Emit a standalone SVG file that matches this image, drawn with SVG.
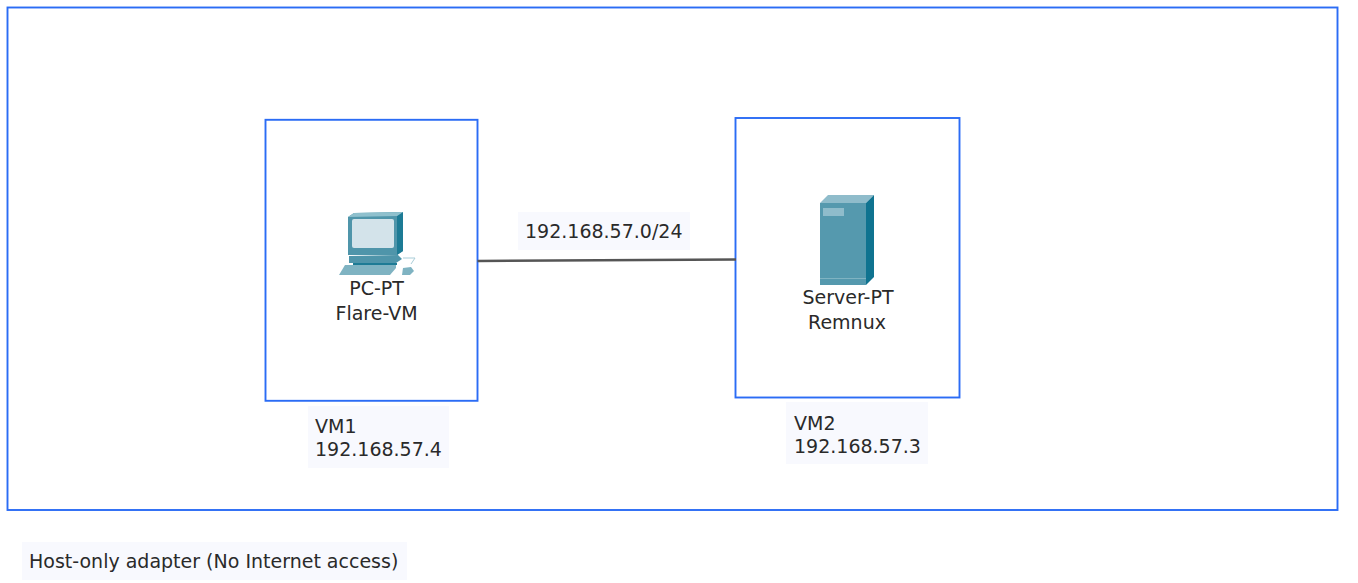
<svg xmlns="http://www.w3.org/2000/svg" width="1358" height="583" viewBox="0 0 1358 583">
<style>
.box{fill:#fff;stroke:#2b6cf5;stroke-width:1.9}
.lab{fill:#f8f9fe}
text{font-family:"DejaVu Sans",sans-serif;font-size:19px;fill:#2a2a2a}
.c{text-anchor:middle}
</style>
<rect width="1358" height="583" fill="#fff"/>
<g id="network"><rect class="box" x="7.500" y="7.500" width="1330" height="502.500"/></g>
<g id="vm1">
<rect class="box" x="265.500" y="119.800" width="212" height="281"/>
<g id="pc-icon">
<polygon points="348,217 354,213 403,212 403,251 397,255 348,255" fill="#4f95aa"/>
<polygon points="397,216 403,212 403,251 397,255" fill="#1d7b95"/>
<polygon points="348,217 354,213 403,212 397,216" fill="#8fc0cd"/>
<rect x="352" y="219" width="42" height="29" rx="2" fill="#d3e3ea"/>
<polygon points="349,256 398,255 402,259 396,263 349,263" fill="#4f95aa"/>
<polygon points="353,263 397,263 397,265 353,265" fill="#1d7b95"/>
<polygon points="345,265 396,265 396,268 390,275 339,275" fill="#7fb3c2"/>
<polygon points="403,268 411,267 414,271 410,275 402,275" fill="#7fb3c2"/>
<path d="M403 258 L415 258 L411 264" fill="none" stroke="#a9cdd8" stroke-width="1"/>
</g>
<text class="c" x="376.500" y="295">PC-PT</text>
<text class="c" x="376.500" y="320">Flare-VM</text>
<rect class="lab" x="308" y="406" width="141" height="62"/>
<text x="315" y="432.500">VM1</text>
<text x="315" y="455.500">192.168.57.4</text>
</g>
<g id="vm2">
<rect class="box" x="735.500" y="118" width="224" height="279.500"/>
<g id="server-icon">
<rect x="820" y="203" width="46" height="82" fill="#5599ae"/>
<polygon points="820,203 828,195 874,195 866,203" fill="#8fbccb"/>
<polygon points="866,203 874,195 874,277 866,285" fill="#0f7390"/>
<rect x="823" y="208" width="21" height="8" fill="#8fbccb"/>
<rect x="820" y="278" width="46" height="1" fill="#7fb3c2"/>
</g>
<text class="c" x="848" y="304">Server-PT</text>
<text class="c" x="847" y="328.500">Remnux</text>
<rect class="lab" x="786" y="402" width="142" height="62"/>
<text x="794" y="429.500">VM2</text>
<text x="794" y="452.500">192.168.57.3</text>
</g>
<g id="connectors"><line x1="477.500" y1="261" x2="736" y2="259.500" stroke="#555" stroke-width="2.400"/></g>
<g id="subnet-label">
<rect class="lab" x="518" y="212" width="172" height="38"/>
<text x="525" y="238">192.168.57.0/24</text>
</g>
<g id="adapter-label">
<rect class="lab" x="22" y="542" width="385" height="38"/>
<text x="29" y="568">Host-only adapter (No Internet access)</text>
</g>
</svg>
